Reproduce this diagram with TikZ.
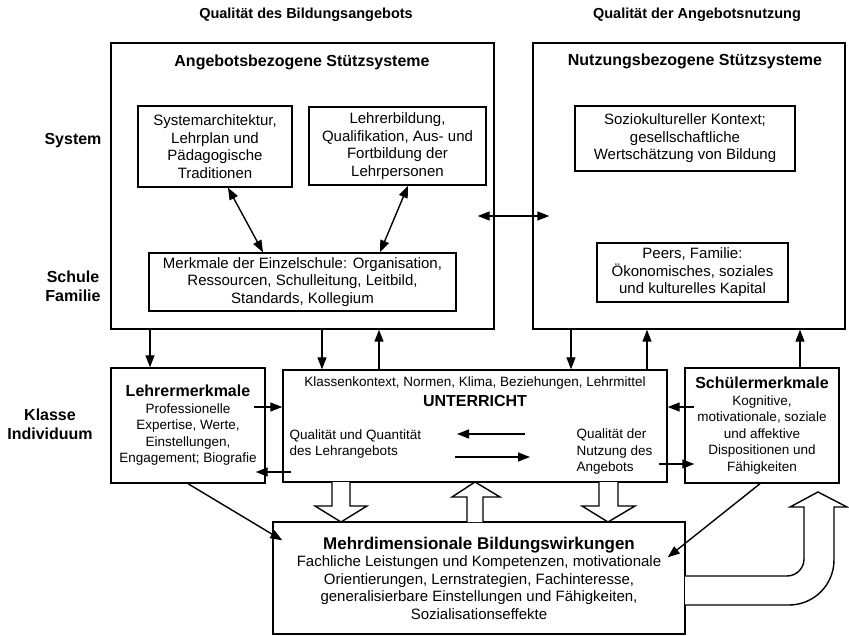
\documentclass[tikz,border=0pt]{standalone}
\usepackage{fontspec}
\setmainfont{Liberation Sans}
\usetikzlibrary{arrows.meta}

\begin{document}
\begin{tikzpicture}[x=1pt, y=-1pt, line width=1.4pt, >={Triangle[length=12pt,width=9pt]},
	box/.style={draw, inner sep=0pt, align=center},
	head/.style={font=\fontsize{14.5}{17}\selectfont\bfseries},
	lvl/.style={font=\fontsize{16}{19}\selectfont\bfseries, align=center},
	ttl/.style={font=\fontsize{16}{19}\selectfont\bfseries},
	txt/.style={font=\fontsize{15}{17.5}\selectfont},
	sml/.style={font=\fontsize{13.5}{16.5}\selectfont},
	blk/.style={draw, fill=white}]
	\useasboundingbox (0,0) rectangle (849,636);
	% Kopfzeile und Ebenen
	\node[head] (HA) at (306,15) {Qualität des Bildungsangebots};
	\node[head] (HN) at (697,15) {Qualität der Angebotsnutzung};
	\node[lvl] (LS) at (73,141) {System};
	\node[lvl] (LF) at (73,286) {Schule\\Familie};
	\node[lvl] (LK) at (50,424) {Klasse\\Individuum};
	% Stützsysteme
	\node[box, minimum width=383, minimum height=286] (AS) at (302.5,186) {};
	\node[box, minimum width=312, minimum height=286] (NS) at (689,186) {};
	\node[ttl] (AST) at (302,62) {Angebotsbezogene Stützsysteme};
	\node[ttl] (NST) at (695,61) {Nutzungsbezogene Stützsysteme};
	\node[box, txt, minimum width=154, minimum height=81] (SA) at (215,146.5)
		{Systemarchitektur,\\Lehrplan und\\Pädagogische\\Traditionen};
	\node[box, txt, minimum width=177, minimum height=78] (LB) at (397.5,146)
		{Lehrerbildung,\\Qualifikation, Aus- und\\Fortbildung der\\Lehrpersonen};
	\node[box, txt, minimum width=307, minimum height=58] (ES) at (302.5,282)
		{Merkmale der Einzelschule: Organisation,\\Ressourcen, Schulleitung, Leitbild,\\Standards, Kollegium};
	\node[box, txt, minimum width=220, minimum height=65] (SK) at (685,138.5)
		{Soziokultureller Kontext;\\gesellschaftliche\\Wertschätzung von Bildung};
	\node[box, txt, minimum width=191, minimum height=59] (PF) at (692.5,272.5)
		{Peers, Familie:\\Ökonomisches, soziales\\und kulturelles Kapital};
	% Klasse
	\node[box, sml, minimum width=154, minimum height=115] (LM) at (188,425.5)
		{\fontsize{16}{18}\selectfont\bfseries Lehrermerkmale\\Professionelle\\Expertise, Werte,\\Einstellungen,\\Engagement; Biografie};
	\node[box, minimum width=384, minimum height=112] (U) at (475,426) {};
	\node[sml] (UK) at (475,383) {Klassenkontext, Normen, Klima, Beziehungen, Lehrmittel};
	\node[ttl] (UT) at (475,401) {UNTERRICHT};
	\node[sml, align=left, anchor=west, inner sep=0pt] (UA) at (289,444)
		{Qualität und Quantität\\des Lehrangebots};
	\node[sml, align=left, anchor=west, inner sep=0pt] (UN) at (576,452)
		{Qualität der\\Nutzung des\\Angebots};
	\node[box, sml, minimum width=154, minimum height=115] (SM) at (762,425.5)
		{\fontsize{16}{18}\selectfont\bfseries Schülermerkmale\\Kognitive,\\motivationale, soziale\\und affektive\\Dispositionen und\\Fähigkeiten};
	% Wirkungen
	\node[box, txt, minimum width=412, minimum height=112] (BW) at (479,578)
		{\fontsize{17}{18.5}\selectfont\bfseries Mehrdimensionale Bildungswirkungen\\Fachliche Leistungen und Kompetenzen, motivationale\\Orientierungen, Lernstrategien, Fachinteresse,\\generalisierbare Einstellungen und Fähigkeiten,\\Sozialisationseffekte};
	% Pfeile
	\draw[<->] ([xshift=13]SA.south) -- ([xshift=-39.5]ES.north);
	\draw[<->] ([xshift=10.5]LB.south) -- ([xshift=77.5]ES.north);
	\draw[<->] ([xshift=-17,yshift=-30]AS.east) -- ([xshift=17,yshift=-30]NS.west);
	\draw[->] ([xshift=-38]LM.north |- AS.south) -- ([xshift=-38]LM.north);
	\draw[->] ([xshift=-153]U.north |- AS.south) -- ([xshift=-153]U.north);
	\draw[->] ([xshift=-96]U.north) -- ([xshift=-96]U.north |- AS.south);
	\draw[->] ([xshift=96]U.north |- NS.south) -- ([xshift=96]U.north);
	\draw[->] ([xshift=172]U.north) -- ([xshift=172]U.north |- NS.south);
	\draw[->] ([xshift=38]SM.north) -- ([xshift=38]SM.north |- NS.south);
	\draw[->] ([xshift=-12,yshift=18.5]LM.east) -- ([yshift=19]U.west);
	\draw[->] ([xshift=9,yshift=-46]U.west) -- ([xshift=-10,yshift=-46.5]LM.east);
	\draw[->] ([xshift=10,yshift=18.5]SM.west) -- ([yshift=19]U.east);
	\draw[->] ([xshift=-9,yshift=-38]U.east) -- ([xshift=10,yshift=-38.5]SM.west);
	\draw[->] ([xshift=50,yshift=-8]U.center) -- ([xshift=-18,yshift=-8]U.center);
	\draw[->] ([xshift=-20,yshift=-31]U.center) -- ([xshift=55,yshift=-31]U.center);
	\draw[->] (LM.south) -- ([xshift=10,yshift=-19]BW.north west);
	\draw[->] ([xshift=-2]SM.south) -- ([xshift=-18,yshift=-36]BW.north east);
	% Blockpfeile
	\draw[blk] (332,482) -- (332,506) -- (315,506) -- (341,522) -- (367,506) -- (350,506) -- (350,482);
	\draw[blk] (467,522) -- (467,497) -- (452,497) -- (475,482) -- (500,497) -- (483,497) -- (483,522);
	\draw[blk] (599,482) -- (599,506) -- (582,506) -- (608,522) -- (635,506) -- (618,506) -- (618,482);
	\draw[blk] (685,576) -- (787,576) arc[start angle=90, end angle=0, radius=17] -- (804,507)
		-- (790,507) -- (818,492) -- (847,507) -- (834,507) -- (834,560)
		arc[start angle=0, end angle=90, radius=45] -- (685,605);
\end{tikzpicture}
\end{document}
